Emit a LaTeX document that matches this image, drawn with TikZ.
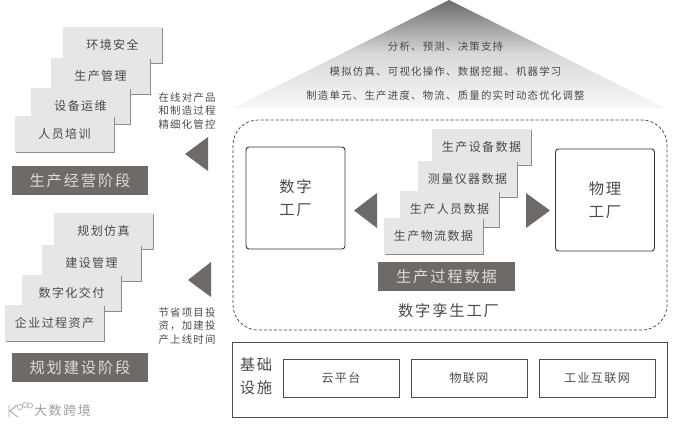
\documentclass[tikz,border=0pt]{standalone}
\usepackage{fontspec}
\setmainfont[LetterSpace=12]{Noto Sans CJK SC}
\usepackage{xcolor}
\usetikzlibrary{shadows}
\definecolor{ink}{HTML}{4A4A4A}
\definecolor{slab}{HTML}{6E6A68}
\definecolor{card}{HTML}{E6E6E6}
\definecolor{paleText}{HTML}{DCDCDC}
\newcommand{\smfont}{\fontsize{10.4}{14}\selectfont}
\newcommand{\mdfont}{\fontsize{12}{14}\selectfont}
\newcommand{\lgfont}{\fontsize{15.3}{22.5}\selectfont}

\begin{document}
\begin{tikzpicture}[x=1pt,y=1pt,
    card/.style={fill=card,minimum width=#1,minimum height=36pt,inner sep=0pt,outer sep=0pt,
                 anchor=north west,text=ink,font=\mdfont,
                 drop shadow={shadow xshift=1.3pt,shadow yshift=-1.3pt,fill=black!45,opacity=1}},
    card/.default=99pt,
    slabel/.style={fill=slab,minimum width=136pt,minimum height=29.5pt,inner sep=0pt,outer sep=0pt,
                   anchor=north west,text=paleText,font=\lgfont},
    factory/.style={draw=black!80,line width=0.9pt,rounded corners=3pt,minimum width=99pt,
                    minimum height=102pt,inner sep=0pt,outer sep=0pt,anchor=north west,
                    text=ink,font=\lgfont,align=center},
    infra/.style={draw=black!70,line width=0.8pt,minimum width=116pt,minimum height=38pt,
                  inner sep=0pt,outer sep=0pt,anchor=north west,text=ink,font=\mdfont},
    note/.style={text=ink,font=\smfont,align=center,inner sep=0pt},
    pointer/.style={fill=slab,draw=none}]

\useasboundingbox (0,0) rectangle (688,-426);

% ======================= top triangle =================================================
\shade[top color=black!58,bottom color=black!3,middle color=black!15]
    (449,0) -- (665,-108) -- (233,-108) -- cycle;
\node[note] (goal1) at (445.5,-47) {分析、预测、决策支持};
\node[note] (goal2) at (445.5,-72) {模拟仿真、可视化操作、数据挖掘、机器学习};
\node[note] (goal3) at (445.5,-96) {制造单元、生产进度、物流、质量的实时动态优化调整};

% ======================= operation stage ==============================================
\node[card] (op1) at (63,-27)  {环境安全};
\node[card] (op2) at (51,-58)  {生产管理};
\node[card] (op3) at (31,-88)  {设备运维};
\node[card] (op4) at (15,-116) {人员培训};
\node[slabel] (opstage) at (12,-165.5) {生产经营阶段};
\node[note] (opnote) at (187,-111) {在线对产品\\[-0.5pt]和制造过程\\[-0.5pt]精细化管控};
\fill[pointer] (185,-154) -- (208,-137) -- (208,-171) -- cycle;

% ======================= planning stage ===============================================
\node[card] (pl1) at (54,-213) {规划仿真};
\node[card] (pl2) at (42,-245) {建设管理};
\node[card] (pl3) at (22,-275) {数字化交付};
\node[card] (pl4) at (5,-305)  {企业过程资产};
\node[slabel] (plstage) at (12,-352.5) {规划建设阶段};
\node[note] (plnote) at (187,-326) {节省项目投\\[-0.5pt]资，加建投\\[-0.5pt]产上线时间};
\fill[pointer] (188,-280) -- (211,-262) -- (211,-297) -- cycle;

% ======================= digital twin factory =========================================
\draw[black!75,line width=0.7pt,densely dashed,rounded corners=25pt] (233,-120) rectangle (667,-330);
\node[factory] (digital) at (246,-147)  {数字\\工厂};
\node[factory] (physical) at (555.5,-149) {物理\\工厂};
\node[card] (data1) at (432,-129) {生产设备数据};
\node[card] (data2) at (418,-161) {测量仪器数据};
\node[card] (data3) at (400,-191) {生产人员数据};
\node[card] (data4) at (384,-218) {生产物流数据};
\node[slabel,minimum width=137pt,minimum height=29pt] (datalabel) at (378,-262) {生产过程数据};
\node[text=ink,font=\lgfont,inner sep=0pt] (twin) at (448.5,-311) {数字孪生工厂};
\fill[pointer] (354,-210.5) -- (377,-193) -- (377,-228) -- cycle;
\fill[pointer] (550,-210.5) -- (526,-193) -- (526,-228) -- cycle;

% ======================= infrastructure ===============================================
\draw[black!70,line width=0.8pt] (232,-342) rectangle (667,-417);
\node[text=ink,font=\lgfont,align=center,inner sep=0pt] (base) at (256,-376) {基础\\设施};
\node[infra] (cloud) at (283,-359) {云平台};
\node[infra] (iot)   at (411,-359) {物联网};
\node[infra] (iiot)  at (539,-359) {工业互联网};

% ======================= watermark ====================================================
\node[text=black!38,font=\fontsize{13}{15}\selectfont,inner sep=0pt] (mark) at (62.5,-411) {大数跨境};
\draw[black!35,line width=0.9pt] (9,-405) -- (9,-417) (17,-405) -- (10,-411) -- (18,-417);
\draw[black!35,line width=0.6pt] (20,-407) circle (2.6) (25,-405) circle (2.6) (30,-405.5) circle (2.6);

\end{tikzpicture}
\end{document}
